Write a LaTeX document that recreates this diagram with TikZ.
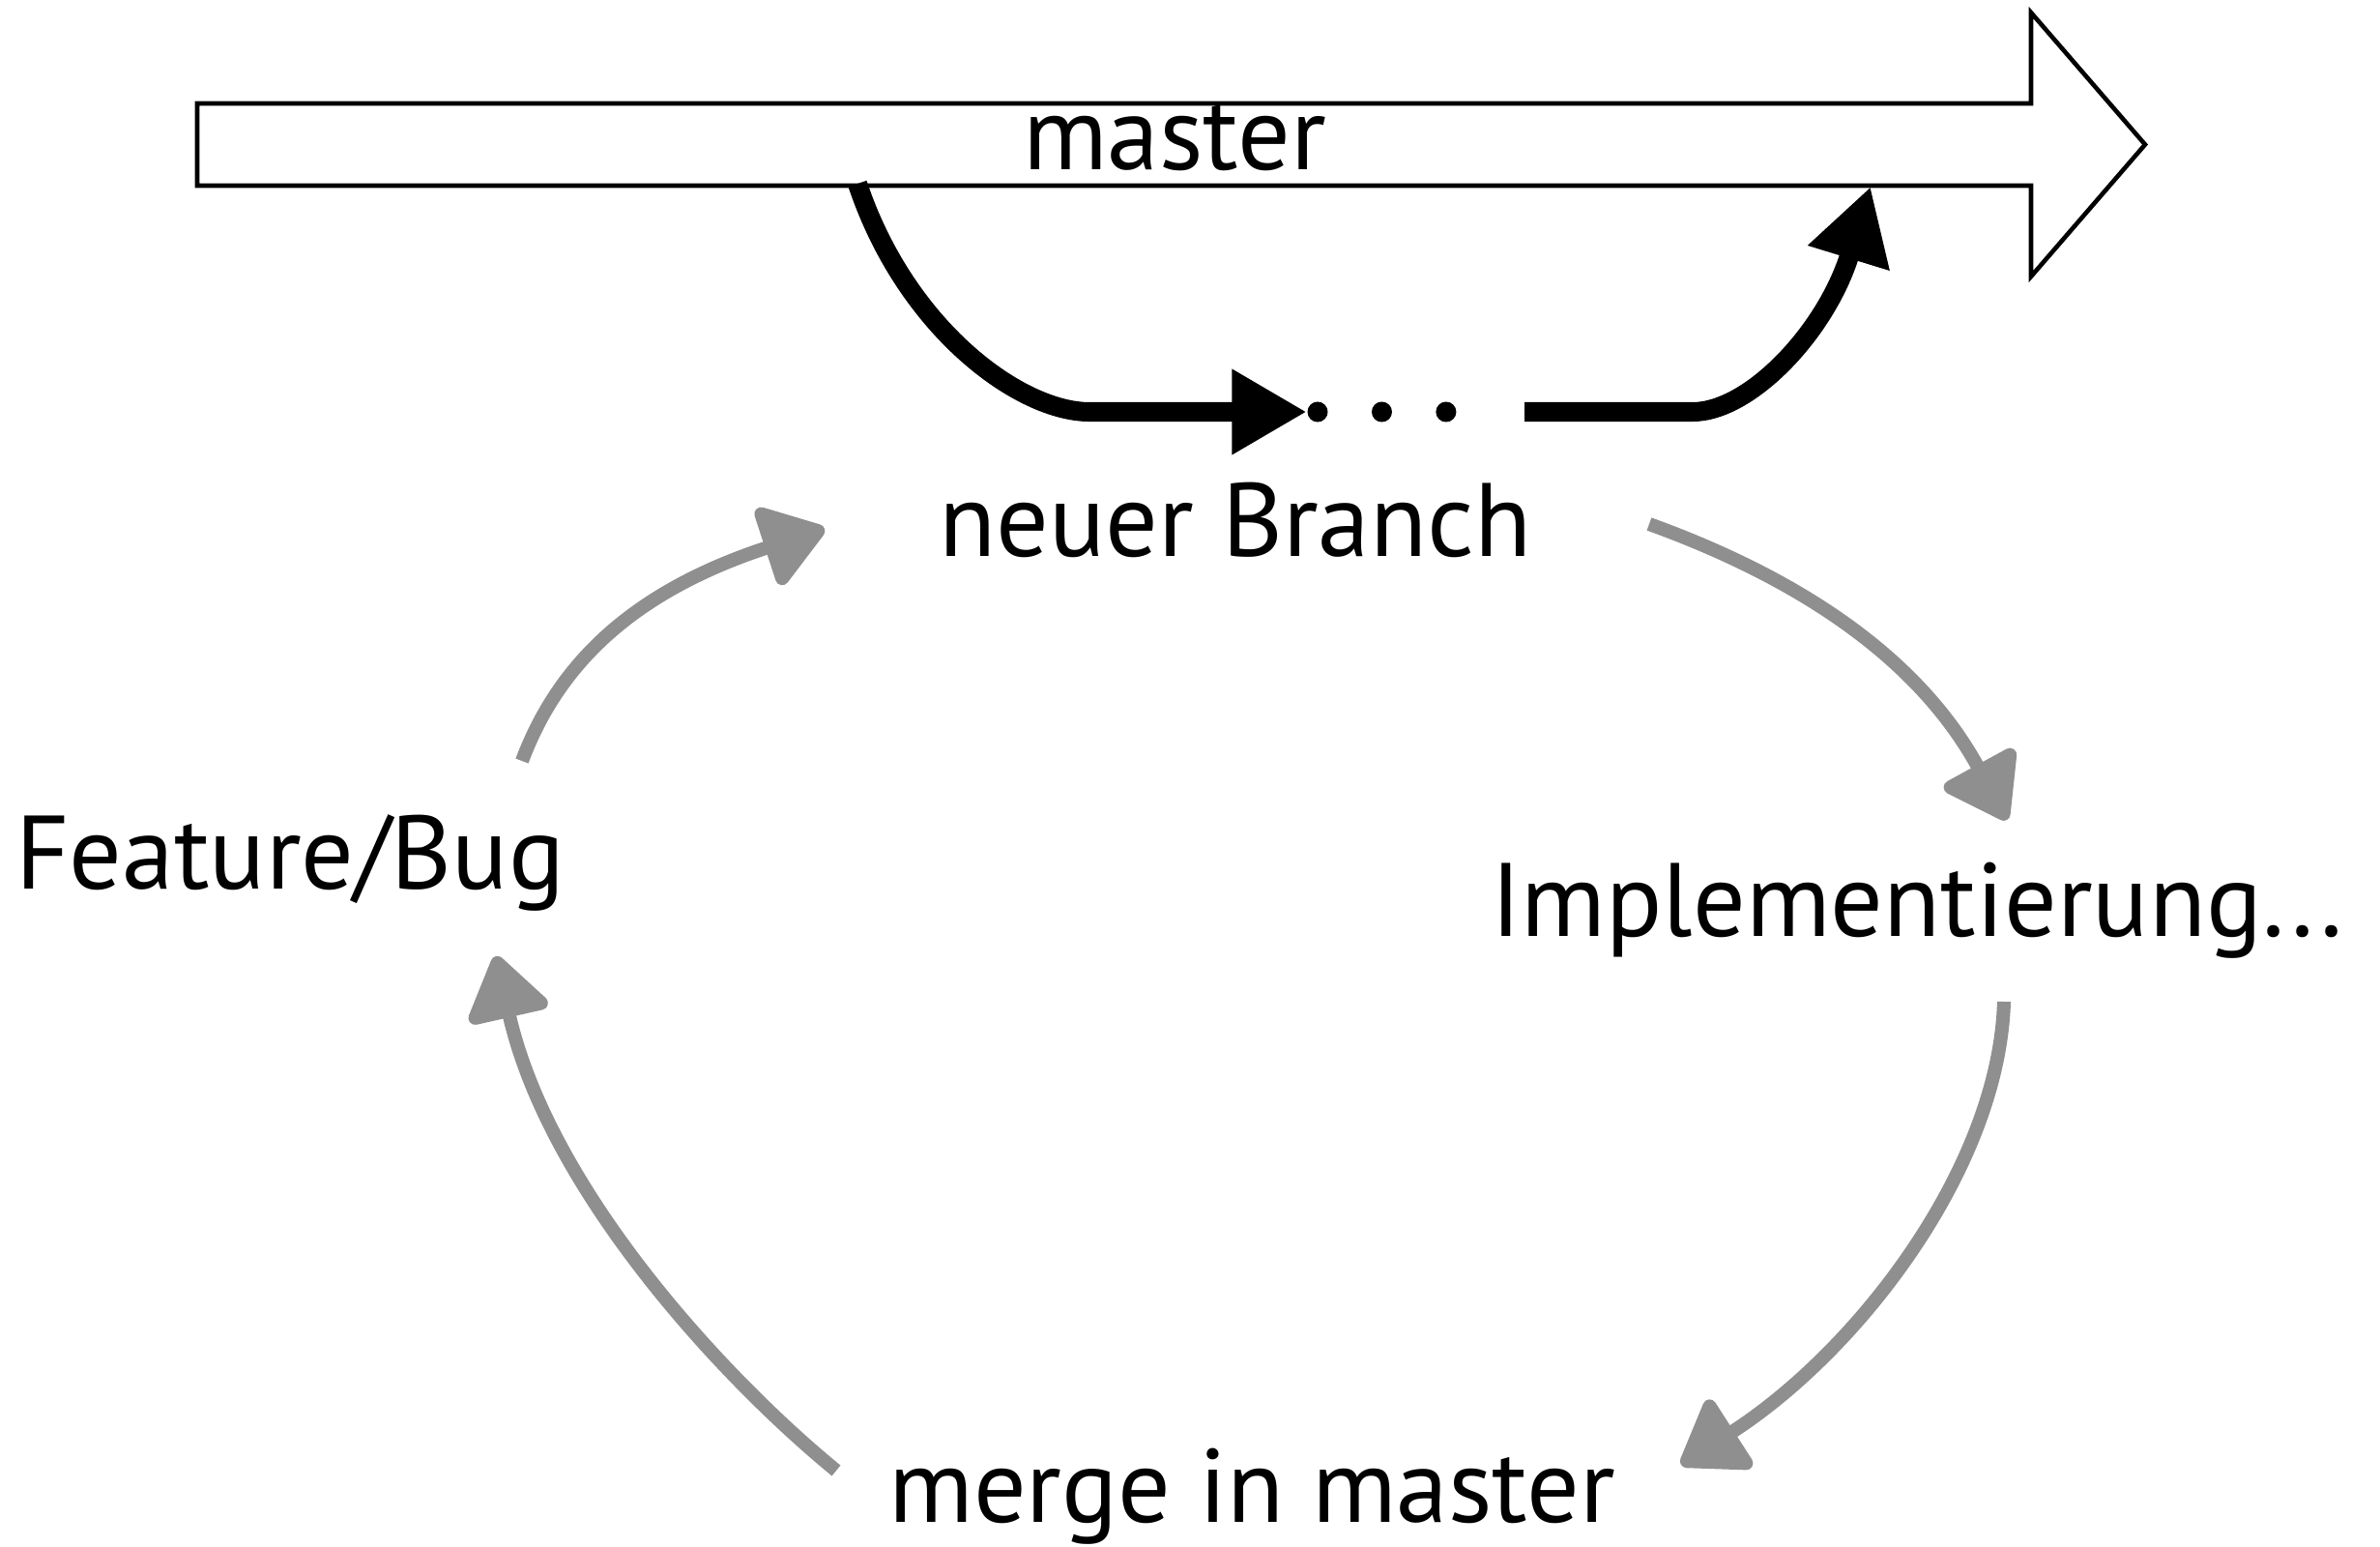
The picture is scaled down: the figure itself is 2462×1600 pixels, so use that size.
\documentclass[tikz,border=0pt]{standalone}
\usepackage{fontspec}
\setmainfont{PT Sans}
\usetikzlibrary{arrows.meta}
\usetikzlibrary{positioning}
\definecolor{chalk}{HTML}{8F8F8F}
\tikzset{
  % hollow arrow of the main line
  trunk/.style = {
    draw = black,
    line width = 1.3pt,
    fill = white,
    line join = miter
  },
  % thick black path of the side branch
  branch path/.style = {
    draw = black,
    line width = 5.7pt,
    -{Triangle[length=22pt, width=23.6pt]}
  },
  % grey arrow of the work cycle
  cycle arrow/.style = {
    draw = chalk,
    line width = 4pt,
    -{Triangle[length=20pt, width=26.5pt, round]}
  }
}
\tikzset {
  phase/.style = {
    anchor = base,
    inner sep = 0,
    font = \fontsize{30.7}{37}\selectfont
  },
  % the dots on the branch
  branch dot/.style = {
    circle,
    fill = black,
    minimum size = 0.21cm,
    inner sep = 0
  },
  node distance = 0.44cm
}
\begin{document}
\begin{tikzpicture}[x=0.01cm, y=-0.01cm]
    \useasboundingbox (0,0) rectangle (2462,1600);

    \draw[trunk] (204,107) -- (2101,107) -- (2101,13) -- (2219,149.5)
      -- (2101,286) -- (2101,192) -- (204,192) -- cycle;
    \node[phase] (master) at (1215,176) {master};

    \coordinate (fork) at (887,190);
    \coordinate (join) at (1935,193);
    \coordinate (resume) at (1577,426);
    \node[branch dot] (dot1) at (1363,426) {};
    \node[branch dot] (dot2) [right=of dot1] {};
    \node[branch dot] (dot3) [right=of dot2] {};

    \node[phase] (branch) at (1278,576) {neuer Branch};
    \node[phase] (feature) at (300,919) {Feature/Bug};
    \node[phase] (impl) at (1983,968) {Implementierung...};
    \node[phase] (merge) at (1295,1574) {merge in master};

    \draw[branch path] (fork)
      .. controls (937,340) and (1055,426) .. (1127,426)
      -- (dot1.west);
    \draw[branch path] (resume) -- (1751,426)
      .. controls (1810,426) and (1889,343) .. (join);

    % cycle: feature -> branch -> impl -> merge -> feature
    \coordinate (feature-out) at (540,787);
    \coordinate (branch-in) at (853,547);
    \coordinate (branch-out) at (1706,542);
    \coordinate (impl-in) at (2076,848);
    \coordinate (impl-out) at (2073,1036);
    \coordinate (merge-in) at (1739,1515);
    \coordinate (merge-out) at (865,1521);
    \coordinate (feature-in) at (513,989);

    \draw[cycle arrow] (feature-out)
      .. controls (580,680) and (663,609) .. (branch-in);
    \draw[cycle arrow] (branch-out)
      .. controls (1847,593) and (1980,672) .. (impl-in);
    \draw[cycle arrow] (impl-out)
      .. controls (2068,1206) and (1924,1396) .. (merge-in);
    \draw[cycle arrow] (merge-out)
      .. controls (750,1427) and (568,1232) .. (feature-in);

  \end{tikzpicture}
\end{document}
